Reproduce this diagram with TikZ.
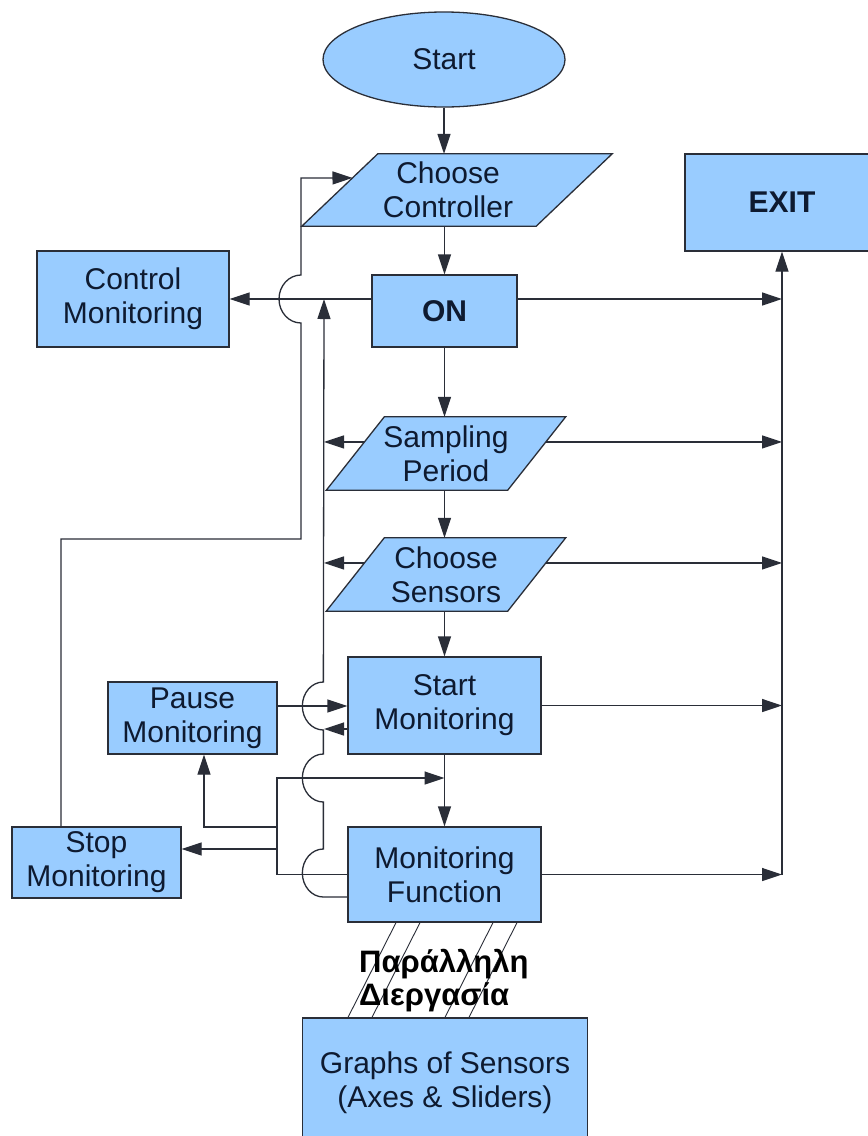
\documentclass[tikz,border=0pt]{standalone}
\usepackage{fontspec}
\setmainfont{Liberation Sans}
\usetikzlibrary{arrows.meta,shapes.geometric,calc}

\definecolor{boxfill}{HTML}{99CCFF}
\definecolor{edgecol}{HTML}{2A2E38}
\definecolor{txtcol}{HTML}{0E1A30}

\newcommand\boxtextfont{\fontsize{30}{34}\selectfont}

\pgfdeclarelayer{back}
\pgfsetlayers{back,main}

\tikzset{
  boxline/.style={draw=edgecol, line width=1.3pt},
  block/.style={boxline, fill=boxfill, rectangle, inner sep=0pt, align=center,
                text=txtcol, font=\boxtextfont},
  boldblock/.style={block, font=\boxtextfont\bfseries},
  terminal/.style={boxline, fill=boxfill, ellipse, inner sep=0pt,
                   text=txtcol, font=\boxtextfont},
  iotext/.style={rectangle, inner sep=0pt, align=center, text=txtcol, font=\boxtextfont},
  plain/.style={draw=edgecol, line width=1.3pt},
  flow/.style={plain, -{Triangle[length=20pt,width=13pt]}},
  hatch/.style={draw=edgecol, line width=0.9pt},
}

% input/output parallelogram drawn behind a text node
\newcommand\slantshape[3]{%
  \coordinate (#1-bl) at ([xshift=#2]#1.south west);
  \coordinate (#1-br) at ([xshift=#2]#1.south east);
  \coordinate (#1-tr) at ([xshift=#3]#1.north east);
  \coordinate (#1-tl) at ([xshift=#3]#1.north west);
  \begin{pgfonlayer}{back}
    \draw[boxline, fill=boxfill] (#1-bl) -- (#1-br) -- (#1-tr) -- (#1-tl) -- cycle;
  \end{pgfonlayer}}

\begin{document}
\begin{tikzpicture}[x=1pt,y=-1pt]
\useasboundingbox (0,0) rectangle (868,1136);
\begin{pgfonlayer}{back}
  \fill[white] (0,0) rectangle (868,1136);
\end{pgfonlayer}
\clip (0,0) rectangle (868,1136);

% ---- nodes ----
\node[terminal, minimum width=242pt, minimum height=95pt] (start) at (444,59.5) {Start};

\node[iotext, minimum width=234pt, minimum height=72pt] (cc) at (448,190) {Choose\\Controller};
\slantshape{cc}{-29pt}{47pt}
\node[iotext, minimum width=181pt, minimum height=73pt] (sp) at (446,453.5) {Sampling\\Period};
\slantshape{sp}{-29pt}{29pt}
\node[iotext, minimum width=181pt, minimum height=73pt] (cs) at (446,574.5) {Choose\\Sensors};
\slantshape{cs}{-29pt}{29pt}

\node[block, minimum width=192pt, minimum height=96pt] (cm) at (133,299) {Control\\Monitoring};
\node[boldblock, minimum width=145pt, minimum height=72pt] (on) at (444.5,311) {ON};
\node[boldblock, minimum width=194pt, minimum height=97pt] (exit) at (782,202.5) {EXIT};
\node[block, minimum width=169pt, minimum height=72pt] (pm) at (192.5,718) {Pause\\Monitoring};
\node[block, minimum width=193pt, minimum height=97pt] (sm) at (444.5,705.5) {Start\\Monitoring};
\node[block, minimum width=169pt, minimum height=71pt] (stop) at (96.5,862.5) {Stop\\Monitoring};
\node[block, minimum width=193pt, minimum height=95pt] (mf) at (444.5,874.5) {Monitoring\\Function};
\node[block, minimum width=285pt, minimum height=130pt] (gr) at (445,1083) {Graphs of Sensors\\(Axes \& Sliders)};

% ---- helper points ----
\coordinate (ret) at (324,299);
\coordinate (up1) at (301,539);
\coordinate (up2) at (301,178);
\coordinate (j1) at (277,778);
\coordinate (j2) at (277,827);
\coordinate (j3) at (277,849);
\coordinate (onL) at ([yshift=12pt]on.west);
\coordinate (onR) at ([yshift=12pt]on.east);
\coordinate (ccL) at ($(cc-bl)!0.667!(cc-tl)$);
\coordinate (spL) at ($(sp-bl)!0.6575!(sp-tl)$);
\coordinate (spR) at ($(sp-br)!0.6575!(sp-tr)$);
\coordinate (csL) at ($(cs-bl)!0.6575!(cs-tl)$);
\coordinate (csR) at ($(cs-br)!0.6575!(cs-tr)$);

% ---- main column ----
\draw[flow] (start.south) -- (start.south |- cc.north);
\draw[flow] (on.north |- cc.south) -- (on.north);
\draw[flow] (on.south) -- (on.south |- sp.north);
\draw[flow] (on.south |- sp.south) -- (on.south |- cs.north);
\draw[flow] (sm.north |- cs.south) -- (sm.north);
\draw[flow] (sm.south) -- (mf.north);

% ---- exits ----
\draw[flow] (onR) -- (onR -| exit.south);
\draw[flow] (spR) -- (spR -| exit.south);
\draw[flow] (csR) -- (csR -| exit.south);
\draw[flow] (sm.east) -- (sm.east -| exit.south);
\draw[flow] (mf.east) -- (mf.east -| exit.south);
\draw[flow] (exit.south |- mf.east) -- (exit.south);

% ---- control monitoring ----
\draw[flow] (onL) -- (cm.east);

% ---- returns to ON ----
\draw[flow] (spL) -- (spL -| ret);
\draw[flow] (csL) -- (csL -| ret);
\draw[flow] ([yshift=-23.5pt]sm.west) -- ([yshift=-23.5pt]sm.west -| ret);
\draw[flow] ([yshift=-22.5pt]mf.west) -- ++(-24,0)
  arc[start angle=-90, end angle=-270, x radius=21pt, y radius=24pt] -- ++(0,-47)
  arc[start angle=-90, end angle=-270, x radius=21pt, y radius=24pt] -- ++(0,-24)
  arc[start angle=-90, end angle=-270, x radius=21pt, y radius=24pt] -- (ret);

% ---- stop back to controller choice ----
\draw[flow] ([xshift=-35.5pt]stop.north) |- (up1) -- ++(0,-216)
  arc[start angle=-90, end angle=-270, x radius=22pt, y radius=24pt] -- (up2) -- (ccL);

% ---- pause / stop / monitoring branches ----
\draw[flow] ([yshift=12pt]pm.east) -- ([yshift=12pt]pm.east -| sm.west);
\draw[flow] (mf.west) -| (j1) -- (j1 -| sm.south);
\draw[flow] (j2) -| ([xshift=11.5pt]pm.south);
\draw[flow] (j3) -- (j3 -| stop.east);

% ---- parallel process link ----
\draw[hatch] ([xshift=-48.5pt]mf.south) -- ([xshift=-97pt]gr.north);
\draw[hatch] ([xshift=-24.5pt]mf.south) -- ([xshift=-73pt]gr.north);
\draw[hatch] ([xshift=48.5pt]mf.south) -- ([xshift=0pt]gr.north);
\draw[hatch] ([xshift=72.5pt]mf.south) -- ([xshift=24pt]gr.north);
\node[anchor=west, align=left, inner sep=0pt, font=\fontsize{31}{33}\selectfont\bfseries, text=black]
  (pp) at (359,981) {Παράλληλη\\Διεργασία};
\end{tikzpicture}
\end{document}
